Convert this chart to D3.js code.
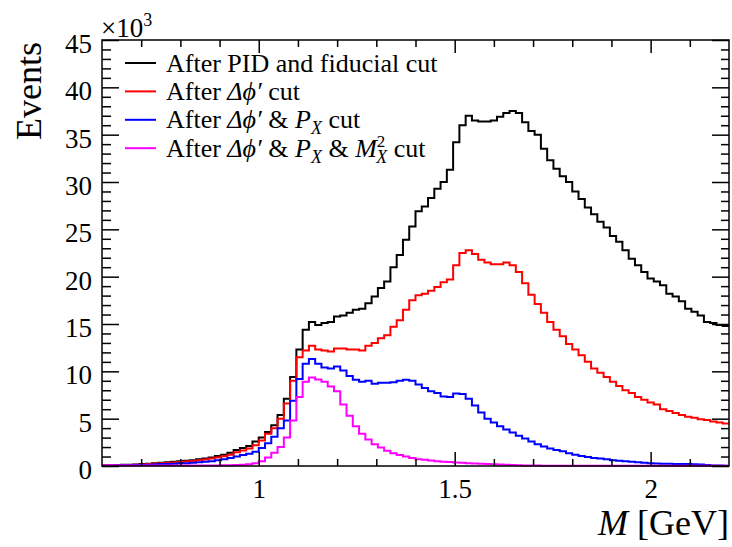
<!DOCTYPE html>
<html lang="en">
  <head>
    <meta charset='utf-8'>
    <script src='https://d3js.org/d3.v7.min.js'></script>
    <title>Invariant mass after cuts</title>
    <style>
      body {
        margin: 0px;
        background: #fff;
      }
      .domain {
        display: none;
      }
      .tick line {
        stroke: #000;
        stroke-width: 1.5;
      }
    </style>
  </head>
  <body>
    <svg id='chart' width='732' height='547'></svg>
    <script>
      // histogram binning (GeV)
      const xMin = 0.6;
      const xMax = 2.2;
      const nBins = 100;

      // bin contents in units of 10^3 events
      const afterPID = [
        0.05, 0.08, 0.1, 0.12, 0.13, 0.15, 0.2, 0.25, 0.3, 0.35,
        0.4, 0.45, 0.5, 0.55, 0.6, 0.7, 0.8, 0.9, 1.05, 1.2,
        1.4, 1.7, 1.9, 2.1, 2.6, 3.0, 3.6, 4.3, 5.4, 7.1,
        9.4, 12.3, 14.4, 15.2, 14.9, 15.1, 15.2, 15.8, 15.9, 16.2,
        16.5, 16.6, 17.2, 17.9, 18.8, 19.5, 21.0, 22.3, 23.9, 25.3,
        26.9, 27.4, 28.3, 29.3, 30.0, 31.3, 34.2, 36.0, 37.0, 36.5,
        36.4, 36.4, 36.5, 36.9, 37.3, 37.5, 37.3, 36.3, 35.4, 35.0,
        33.5, 32.3, 31.4, 30.6, 30.0, 29.0, 28.2, 27.3, 26.6, 25.8,
        25.2, 24.3, 23.7, 22.8, 21.9, 21.2, 20.5, 19.8, 19.5, 19.1,
        18.2, 17.9, 17.4, 16.6, 16.3, 15.9, 15.2, 15.1, 14.9, 14.8
      ];
      const afterDphi = [
        0.04, 0.07, 0.09, 0.1, 0.11, 0.13, 0.17, 0.2, 0.24, 0.28,
        0.32, 0.37, 0.42, 0.47, 0.52, 0.6, 0.68, 0.78, 0.9, 1.02,
        1.2, 1.45, 1.65, 1.85, 2.2, 2.7, 3.4, 4.0, 5.0, 6.6,
        9.0, 11.5, 12.2, 12.7, 12.3, 12.2, 12.1, 12.4, 12.4, 12.3,
        12.3, 12.2, 12.7, 13.0, 13.5, 13.8, 14.7, 15.4, 16.5, 17.5,
        18.05, 18.2, 18.5, 18.9, 19.4, 19.7, 21.2, 22.5, 22.8, 22.4,
        21.8, 21.5, 21.3, 21.3, 21.5, 21.2, 20.5, 19.3, 18.1, 17.1,
        16.2, 15.2, 14.4, 13.7, 12.9, 12.3, 11.7, 11.0, 10.3, 9.85,
        9.4, 8.9, 8.45, 8.0, 7.7, 7.3, 7.0, 6.7, 6.5, 6.0,
        5.8, 5.6, 5.4, 5.2, 5.1, 4.95, 4.85, 4.7, 4.6, 4.5
      ];
      const afterPx = [
        0.03, 0.05, 0.07, 0.08, 0.09, 0.1, 0.12, 0.14, 0.17, 0.2,
        0.22, 0.25, 0.28, 0.3, 0.35, 0.4, 0.45, 0.5, 0.6, 0.7,
        0.85, 1.0, 1.15, 1.3, 1.5, 1.9, 2.4, 3.1, 4.0, 4.8,
        6.9, 9.2, 10.8, 11.3, 10.8, 10.4, 10.3, 10.5, 10.1, 9.5,
        9.1, 8.9, 9.0, 8.7, 8.8, 8.8, 8.85, 9.0, 9.1, 9.0,
        8.6, 8.25, 7.9, 7.7, 7.35, 7.3, 7.65, 7.6, 7.1, 6.4,
        5.65, 5.0, 4.6, 4.2, 3.85, 3.55, 3.2, 2.9, 2.6, 2.3,
        2.05, 1.85, 1.7, 1.55, 1.35, 1.2, 1.05, 0.95, 0.85, 0.78,
        0.7, 0.62, 0.56, 0.5, 0.45, 0.4, 0.35, 0.3, 0.27, 0.25,
        0.23, 0.22, 0.2, 0.2, 0.18, 0.15, 0.1, 0.06, 0.04, 0.03
      ];
      const afterMx2 = [
        0.08, 0.08, 0.06, 0.05, 0.05, 0.05, 0.05, 0.05, 0.05, 0.05,
        0.05, 0.05, 0.05, 0.05, 0.05, 0.05, 0.05, 0.06, 0.06, 0.07,
        0.08, 0.1, 0.12, 0.18, 0.3, 0.5, 0.9, 1.4, 2.0, 3.0,
        4.8, 7.3, 8.9, 9.35, 9.15, 8.9, 8.4, 7.9, 6.5, 5.3,
        4.2, 3.4, 2.8, 2.3, 1.95, 1.6, 1.35, 1.15, 1.0, 0.85,
        0.72, 0.65, 0.58, 0.5, 0.46, 0.42, 0.38, 0.34, 0.3, 0.27,
        0.24, 0.2, 0.18, 0.15, 0.12, 0.1, 0.08, 0.06, 0.05, 0.04,
        0.03, 0.03, 0.03, 0.03, 0.03, 0.03, 0.03, 0.03, 0.03, 0.03,
        0.03, 0.03, 0.03, 0.03, 0.03, 0.03, 0.03, 0.03, 0.03, 0.03,
        0.03, 0.03, 0.03, 0.03, 0.03, 0.03, 0.03, 0.03, 0.03, 0.03
      ];

      const seriesColors = ['#000000', '#ff0000', '#0000ff', '#ff00ff'];

      // tick values and labels
      const xMajorTicks = [1, 1.5, 2];
      const xMajorLabels = ['1', '1.5', '2'];
      const xMinorTicks = [0.7, 0.8, 0.9, 1.1, 1.2, 1.3, 1.4, 1.6, 1.7, 1.8, 1.9, 2.1];
      const yMajorTicks = [0, 5, 10, 15, 20, 25, 30, 35, 40, 45];
      const yMinorTicks = [1, 2, 3, 4, 6, 7, 8, 9, 11, 12, 13, 14, 16, 17, 18, 19,
        21, 22, 23, 24, 26, 27, 28, 29, 31, 32, 33, 34, 36, 37, 38, 39, 41, 42, 43, 44];

      const serif = '"Liberation Serif", "Times New Roman", "DejaVu Serif", serif';

      const svg = d3.select('#chart');
      const margin = { left: 102, right: 3, top: 40, bottom: 81 };
      const width = 732, height = 547;
      const innerWidth = width - margin.left - margin.right;
      const innerHeight = height - margin.top - margin.bottom;

      const g = svg.append('g')
        .attr('transform', `translate(${margin.left},${margin.top})`);

      const xScale = d3.scaleLinear().domain([xMin, xMax]).range([0, innerWidth]);
      const yScale = d3.scaleLinear().domain([0, 45]).range([innerHeight, 0]);

      const binWidth = (xMax - xMin) / nBins;

      //step outline of one histogram
      const stepLine = d3.line()
        .x(d => xScale(d[0]))
        .y(d => yScale(d[1]))
        .curve(d3.curveStepAfter);

      const toPoints = values => {
        const pts = values.map((v, i) => [xMin + i * binWidth, v]);
        pts.push([xMax, values[values.length - 1]]);
        return pts;
      };

      const allSeries = [afterPID, afterDphi, afterPx, afterMx2];

      g.selectAll('path.hist')
        .data(allSeries)
        .enter().append('path')
          .attr('class', 'hist')
          .attr('fill', 'none')
          .attr('stroke', (d, i) => seriesColors[i])
          .attr('stroke-width', 2)
          .attr('d', d => stepLine(toPoints(d)));

      // axes, ticks drawn inside the frame like ROOT
      const fontTick = 27;

      const xAxisMajor = d3.axisBottom(xScale)
        .tickValues(xMajorTicks)
        .tickFormat((d, i) => xMajorLabels[i])
        .tickSize(-14)
        .tickPadding(13);
      const xAxisMinor = d3.axisBottom(xScale).tickValues(xMinorTicks).tickFormat('').tickSize(-7);

      const xAxisG = g.append('g').attr('transform', `translate(0,${innerHeight})`);
      xAxisG.append('g').call(xAxisMajor);
      xAxisG.append('g').call(xAxisMinor);

      const topG = g.append('g');
      topG.append('g').call(d3.axisTop(xScale).tickValues(xMajorTicks).tickFormat('').tickSize(-13));
      topG.append('g').call(d3.axisTop(xScale).tickValues(xMinorTicks).tickFormat('').tickSize(-7));

      const yAxisMajor = d3.axisLeft(yScale)
        .tickValues(yMajorTicks)
        .tickSize(-17)
        .tickPadding(10);
      const yAxisMinor = d3.axisLeft(yScale).tickValues(yMinorTicks).tickFormat('').tickSize(-9);

      const yAxisG = g.append('g');
      yAxisG.append('g').call(yAxisMajor);
      yAxisG.append('g').call(yAxisMinor);
      yAxisG.selectAll('text').attr('dy', '0.46em');

      const rightG = g.append('g').attr('transform', `translate(${innerWidth},0)`);
      rightG.append('g').call(d3.axisRight(yScale).tickValues(yMajorTicks).tickFormat('').tickSize(-17));
      rightG.append('g').call(d3.axisRight(yScale).tickValues(yMinorTicks).tickFormat('').tickSize(-8));

      // d3 puts sans-serif on axis groups; switch to the ROOT serif look
      g.selectAll('g').filter(function () { return this.hasAttribute('font-family'); })
        .attr('font-family', serif)
        .attr('font-size', fontTick);

      // frame
      g.append('rect')
        .attr('width', innerWidth)
        .attr('height', innerHeight)
        .attr('fill', 'none')
        .attr('stroke', '#000')
        .attr('stroke-width', 1.5);

      // axis titles
      svg.append('text')
        .attr('transform', `translate(41,${margin.top + 2}) rotate(-90)`)
        .attr('text-anchor', 'end')
        .attr('font-family', serif)
        .attr('font-size', 36)
        .text('Events');

      const xTitle = svg.append('text')
        .attr('x', margin.left + innerWidth)
        .attr('y', 535)
        .attr('text-anchor', 'end')
        .attr('font-family', serif)
        .attr('font-size', 36);
      xTitle.append('tspan').attr('font-style', 'italic').text('M');
      xTitle.append('tspan').text(' [GeV]');

      const expo = svg.append('text')
        .attr('x', margin.left - 1)
        .attr('y', 37)
        .attr('font-family', serif)
        .attr('font-size', fontTick);
      expo.append('tspan').text('\u00d710');
      expo.append('tspan').attr('font-size', 18).attr('dy', -11).text('3');

      // legend
      const legendRows = [
        [{ t: 'After PID and fiducial cut' }],
        [{ t: 'After ' }, { t: '\u0394\u03d5\u2032', i: true }, { t: ' cut' }],
        [{ t: 'After ' }, { t: '\u0394\u03d5\u2032', i: true }, { t: ' & ' }, { t: 'P', i: true },
         { t: 'X', i: true, sub: true }, { t: ' cut' }],
        [{ t: 'After ' }, { t: '\u0394\u03d5\u2032', i: true }, { t: ' & ' }, { t: 'P', i: true },
         { t: 'X', i: true, sub: true }, { t: ' & ' }, { t: 'M', i: true },
         { t: '2', sup: true }, { t: 'X', i: true, sub: true, under: true }, { t: ' cut' }]
      ];

      const legendG = svg.append('g').attr('transform', 'translate(125,63)');
      legendRows.forEach((row, r) => {
        const y = r * 28.4;
        legendG.append('line')
          .attr('x1', 0).attr('x2', 31)
          .attr('y1', y).attr('y2', y)
          .attr('stroke', seriesColors[r])
          .attr('stroke-width', 2);
        const txt = legendG.append('text')
          .attr('x', 41)
          .attr('y', y + 8.5)
          .attr('font-family', serif)
          .attr('font-size', 26);
        let shift = 0;
        row.forEach(p => {
          const ts = txt.append('tspan').text(p.t);
          if (p.i) ts.attr('font-style', 'italic');
          let target = 0;
          if (p.sub) { target = 6; ts.attr('font-size', 18); }
          if (p.sup) { target = -10; ts.attr('font-size', 17); }
          if (target !== shift) { ts.attr('dy', target - shift); shift = target; }
          if (p.under) ts.attr('dx', -9);
        });
      });
    </script>
  </body>
</html>
